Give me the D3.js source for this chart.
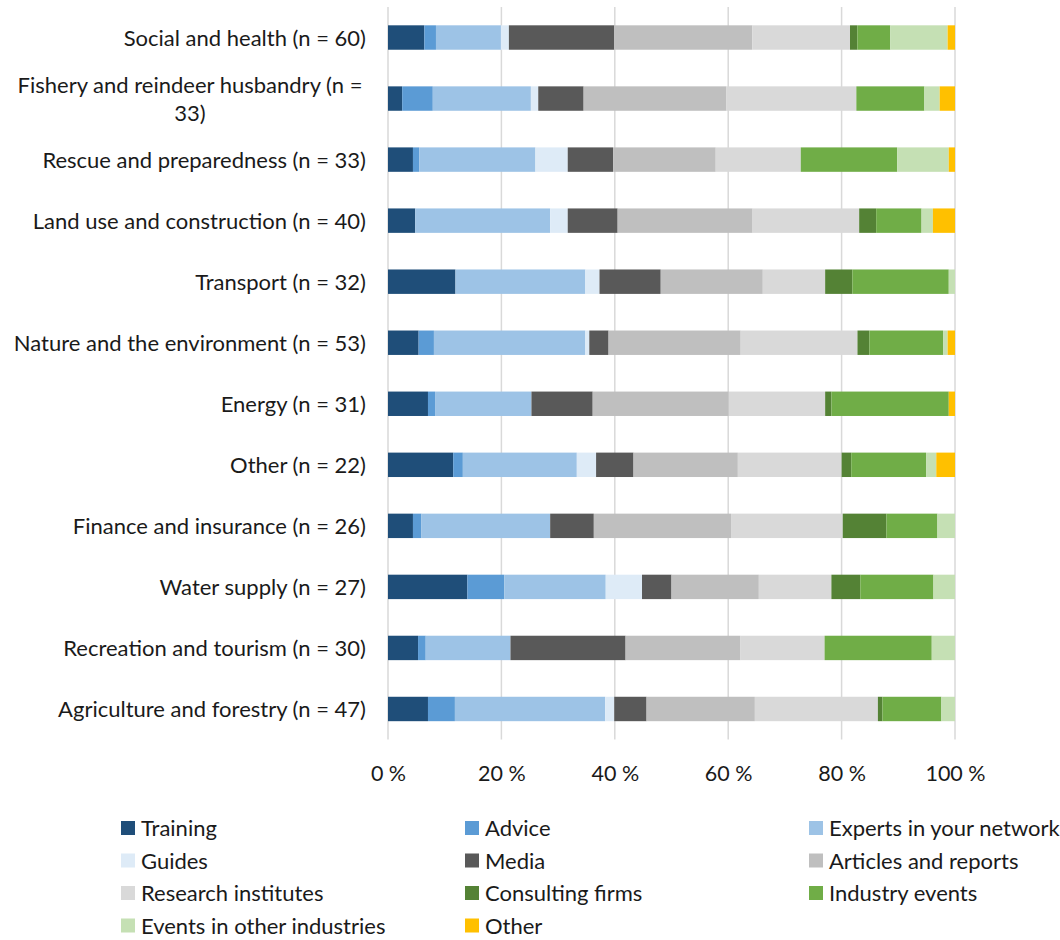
<!DOCTYPE html>
<html>
<head>
<meta charset="utf-8">
<script src="https://cdn.jsdelivr.net/npm/d3@7/dist/d3.min.js"></script>
<style>
  html, body { margin: 0; padding: 0; background: #fff; }
  svg { display: block; font-family: Lato, "Open Sans", sans-serif; }
</style>
</head>
<body>
<svg id="chart" width="1060" height="940"></svg>
<script>
// Sectors, top to bottom
const categories = [
  "Social and health (n = 60)",
  "Fishery and reindeer husbandry (n = 33)",
  "Rescue and preparedness (n = 33)",
  "Land use and construction (n = 40)",
  "Transport (n = 32)",
  "Nature and the environment (n = 53)",
  "Energy (n = 31)",
  "Other (n = 22)",
  "Finance and insurance (n = 26)",
  "Water supply (n = 27)",
  "Recreation and tourism (n = 30)",
  "Agriculture and forestry (n = 47)"
];

// Share of answers per information source (%), one value per sector
const training   = [6.4, 2.5, 4.4, 4.8, 11.9, 5.4, 7.05, 11.5, 4.4, 14.0, 5.3, 7.05];
const advice     = [2.05, 5.4, 1.1, 0, 0, 2.7, 1.25, 1.7, 1.5, 6.5, 1.35, 4.75];
const experts    = [11.45, 17.3, 20.5, 23.8, 22.9, 26.7, 17.0, 20.1, 22.7, 17.9, 14.95, 26.5];
const guides     = [1.4, 1.3, 5.7, 3.1, 2.5, 0.7, 0, 3.4, 0, 6.4, 0, 1.6];
const media      = [18.55, 8.0, 8.0, 8.8, 10.8, 3.4, 10.8, 6.6, 7.7, 5.2, 20.3, 5.7];
const articles   = [24.35, 25.2, 18.1, 23.8, 18.0, 23.3, 24.0, 18.4, 24.2, 15.4, 20.2, 19.1];
const research   = [17.2, 22.9, 15.0, 18.8, 11.0, 20.6, 17.0, 18.3, 19.7, 12.8, 14.9, 21.7];
const consulting = [1.3, 0, 0, 3.0, 4.8, 2.1, 1.1, 1.7, 7.7, 5.1, 0, 0.8];
const industry   = [5.8, 12.0, 17.0, 8.0, 17.0, 13.0, 20.7, 13.2, 9.0, 12.9, 18.9, 10.4];
const otherEvents= [10.1, 2.7, 9.1, 2.0, 1.1, 0.8, 0, 1.8, 3.1, 3.8, 4.1, 2.4];
const otherSrc   = [1.3, 2.7, 1.1, 3.9, 0, 1.3, 1.1, 3.3, 0, 0, 0, 0];

const seriesNames = [
  "Training", "Advice", "Experts in your network", "Guides", "Media",
  "Articles and reports", "Research institutes", "Consulting firms",
  "Industry events", "Events in other industries", "Other"
];
const seriesValues = [training, advice, experts, guides, media, articles,
  research, consulting, industry, otherEvents, otherSrc];
const seriesColors = ["#1f4e79", "#5b9bd5", "#9dc3e6", "#deebf7", "#595959",
  "#bfbfbf", "#d9d9d9", "#548235", "#70ad47", "#c5e0b4", "#ffc000"];

const tickValues = [0, 0.2, 0.4, 0.6, 0.8, 1];

// Table for the stack layout
const rows = categories.map((c, i) => {
  const r = { category: c };
  seriesNames.forEach((s, k) => { r[s] = seriesValues[k][i]; });
  return r;
});

const stacked = d3.stack()
  .keys(seriesNames)
  .offset(d3.stackOffsetExpand)(rows);

const svg = d3.select("#chart");
const plot = { left: 388, right: 955, top: 7, bottom: 739.5 };

const x = d3.scaleLinear().domain([0, 1]).range([plot.left, plot.right]);
const y = d3.scaleBand().domain(categories)
  .range([plot.top, plot.bottom])
  .paddingInner(0.6).paddingOuter(0.3);
const color = d3.scaleOrdinal().domain(seriesNames).range(seriesColors);

const textColor = "#1a1a1a";
const fontSize = 22;

// Vertical gridlines
svg.append("g").selectAll("line").data(tickValues).join("line")
  .attr("x1", d => x(d)).attr("x2", d => x(d))
  .attr("y1", plot.top).attr("y2", plot.bottom)
  .attr("stroke", "#d9d9d9").attr("stroke-width", 1.5);

// Stacked bars
svg.append("g").selectAll("g").data(stacked).join("g")
  .attr("fill", d => color(d.key))
  .selectAll("rect").data(d => d).join("rect")
  .attr("x", d => x(d[0]))
  .attr("width", d => Math.max(0, x(d[1]) - x(d[0])))
  .attr("y", d => y(d.data.category))
  .attr("height", y.bandwidth());

// Percent axis
const xAxis = d3.axisBottom(x)
  .tickValues(tickValues)
  .tickSize(0)
  .tickPadding(0)
  .tickFormat(d => Math.round(d * 100) + "\u00a0%");
const ax = svg.append("g")
  .attr("transform", `translate(0, ${plot.bottom})`)
  .call(xAxis);
ax.select(".domain").remove();
ax.selectAll("text")
  .attr("dy", null)
  .attr("y", 41.5)
  .attr("font-size", 21.5)
  .attr("font-family", "Lato, 'Open Sans', sans-serif")
  .attr("fill", textColor);

// Category labels (long ones wrap onto two centred lines)
const labelG = svg.append("g")
  .attr("font-size", fontSize)
  .attr("fill", textColor);
categories.forEach(c => {
  const cy = y(c) + y.bandwidth() / 2;
  if (c.startsWith("Fishery")) {
    const t = labelG.append("text")
      .attr("text-anchor", "middle");
    t.append("tspan").attr("x", 190).attr("y", cy - 6).text("Fishery and reindeer husbandry (n =");
    t.append("tspan").attr("x", 190).attr("y", cy + 22).text("33)");
  } else {
    labelG.append("text")
      .attr("x", 366).attr("y", cy + 8)
      .attr("text-anchor", "end")
      .text(c);
  }
});

// Legend, three columns
const legend = svg.append("g").attr("font-size", fontSize).attr("fill", textColor);
const colX = [121, 465, 809];
const rowY = [828, 860.5, 893, 925.5];
seriesNames.forEach((s, i) => {
  const gx = colX[i % 3], gy = rowY[Math.floor(i / 3)];
  const g = legend.append("g").attr("transform", `translate(${gx}, ${gy})`);
  g.append("rect").attr("x", 0).attr("y", -7).attr("width", 14).attr("height", 14)
    .attr("fill", color(s));
  g.append("text").attr("x", 20).attr("y", 8).text(s);
});
</script>
</body>
</html>
